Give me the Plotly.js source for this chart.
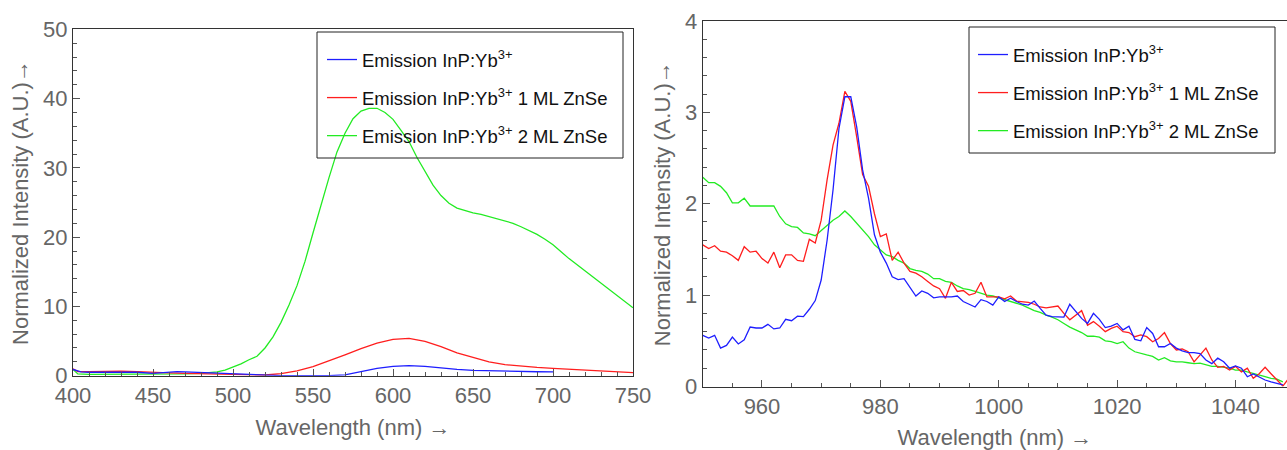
<!DOCTYPE html>
<html>
<head>
<meta charset="utf-8">
<script src="https://cdn.plot.ly/plotly-3.0.1.min.js"></script>
<style>html,body{margin:0;padding:0;background:#fff}#chart{width:1287px;height:450px}</style>
</head>
<body>
<div id="chart"></div>
<script>
// ---- Left panel: visible emission ----
const visBlueX = [400,405,410,420,430,440,450,460,465,470,480,490,500,510,520,530,540,550,560,570,575,580,590,600,610,620,630,640,650,660,670,680,690,700];
const visBlueY = [0.9,0.55,0.5,0.5,0.55,0.5,0.35,0.5,0.6,0.55,0.45,0.35,0.25,0.12,0.05,0.02,0.0,0.0,0.02,0.12,0.35,0.65,1.05,1.35,1.45,1.35,1.1,0.92,0.78,0.7,0.64,0.6,0.57,0.55];

const visRedX = [400,403,410,420,430,440,450,460,470,480,490,500,510,520,530,540,550,560,570,580,590,600,610,620,630,640,650,660,670,680,690,700,710,720,730,740,750];
const visRedY = [1.0,0.6,0.6,0.65,0.65,0.6,0.45,0.4,0.35,0.3,0.3,0.2,0.1,0.1,0.3,0.7,1.3,2.1,3.0,3.9,4.7,5.25,5.4,4.95,4.2,3.3,2.6,2.0,1.6,1.35,1.2,1.07,0.93,0.79,0.66,0.54,0.43];

const visGreenX = [400,403,410,420,430,440,450,460,470,480,490,495,500,505,510,515,520,525,530,535,540,545,550,555,560,565,570,575,580,585,590,595,600,605,610,615,620,625,630,635,640,645,650,655,660,665,670,675,680,685,690,695,700,710,720,730,740,750];
const visGreenY = [0.9,0.25,0.2,0.2,0.2,0.2,0.2,0.22,0.25,0.35,0.55,0.8,1.2,1.7,2.3,2.8,4.0,5.6,7.7,10.2,13.0,16.5,20.6,24.8,28.6,32.3,35.0,37.1,38.2,38.6,38.6,38.0,37.0,35.4,33.8,31.5,29.4,27.5,26.0,24.9,24.2,23.8,23.5,23.3,23.0,22.7,22.4,22.0,21.5,21.0,20.4,19.7,18.9,16.9,15.1,13.3,11.5,9.8];

// ---- Right panel: NIR emission (1 nm steps from 950) ----
const nirBlueY = [0.56,0.53,0.56,0.42,0.45,0.54,0.465,0.51,0.65,0.64,
  0.64,0.68,0.63,0.64,0.735,0.72,0.77,0.765,0.845,0.94,
  1.165,1.60,2.15,2.82,3.17,3.17,2.84,2.37,2.06,1.66,
  1.47,1.35,1.20,1.17,1.18,1.09,0.99,1.045,1.02,0.97,
  0.98,0.98,0.98,0.99,0.93,0.90,0.87,0.95,0.93,0.89,
  0.98,0.93,0.965,0.93,0.90,0.89,0.935,0.855,0.78,0.765,
  0.765,0.76,0.90,0.82,0.745,0.69,0.80,0.735,0.645,0.66,
  0.69,0.62,0.66,0.515,0.50,0.645,0.58,0.435,0.435,0.47,
  0.42,0.39,0.37,0.37,0.36,0.29,0.25,0.31,0.27,0.20,
  0.225,0.20,0.107,0.137,0.10,0.071,0.05,0.035,0.017];
const nirRedY = [1.55,1.51,1.54,1.48,1.47,1.43,1.38,1.53,1.47,1.48,
  1.40,1.35,1.47,1.30,1.44,1.44,1.38,1.37,1.61,1.57,
  1.82,2.26,2.64,2.88,3.23,3.12,2.73,2.32,2.19,1.89,
  1.64,1.67,1.38,1.47,1.35,1.26,1.24,1.20,1.15,1.10,
  1.07,0.965,1.14,1.04,1.05,1.00,1.02,1.14,0.98,0.98,
  0.98,0.96,0.99,0.935,0.93,0.92,0.90,0.87,0.86,0.87,
  0.88,0.80,0.73,0.78,0.83,0.67,0.71,0.66,0.60,0.635,
  0.66,0.60,0.59,0.545,0.565,0.545,0.49,0.525,0.59,0.47,
  0.40,0.41,0.38,0.27,0.345,0.42,0.29,0.21,0.22,0.18,
  0.22,0.16,0.20,0.09,0.14,0.21,0.14,0.07,0.005,0.09];
const nirGreenY = [2.29,2.23,2.23,2.19,2.12,2.01,2.01,2.06,1.975,1.975,
  1.975,1.975,1.975,1.86,1.78,1.75,1.74,1.68,1.67,1.65,
  1.71,1.77,1.82,1.86,1.92,1.86,1.79,1.71,1.64,1.55,
  1.49,1.44,1.42,1.38,1.35,1.29,1.27,1.26,1.23,1.18,
  1.18,1.15,1.14,1.10,1.07,1.06,1.04,1.02,1.00,0.99,
  0.97,0.95,0.93,0.91,0.89,0.86,0.83,0.81,0.78,0.76,
  0.73,0.69,0.65,0.62,0.59,0.55,0.55,0.54,0.50,0.49,
  0.47,0.49,0.42,0.38,0.36,0.345,0.33,0.29,0.315,0.28,
  0.27,0.27,0.26,0.25,0.255,0.235,0.22,0.22,0.21,0.20,
  0.18,0.18,0.16,0.14,0.125,0.107,0.09,0.08,0.05];
const nirStart = 950;
const nirX = n => Array.from({length: n}, (_, i) => nirStart + i);

const names = ['Emission InP:Yb<sup>3+</sup>', 'Emission InP:Yb<sup>3+</sup> 1 ML ZnSe', 'Emission InP:Yb<sup>3+</sup> 2 ML ZnSe'];
const colors = ['rgb(30,30,255)', 'rgb(255,30,30)', 'rgb(35,235,35)'];

const font = 'Liberation Sans, Arial, sans-serif';
const lw = 1.3;
const W = 1287, H = 450;

function line(x, y, i, xa, ya, leg, grp) {
  return {x, y, type: 'scatter', mode: 'lines', name: names[i], xaxis: xa, yaxis: ya,
    legend: leg, legendgroup: grp, legendrank: i + 1,
    line: {color: colors[i], width: lw}, hoverinfo: 'skip'};
}

const traces = [
  line(visGreenX, visGreenY, 2, 'x', 'y', 'legend', 'a3'),
  line(visRedX, visRedY, 1, 'x', 'y', 'legend', 'a2'),
  line(visBlueX, visBlueY, 0, 'x', 'y', 'legend', 'a1'),
  line(nirX(nirGreenY.length), nirGreenY, 2, 'x2', 'y2', 'legend2', 'b3'),
  line(nirX(nirRedY.length), nirRedY, 1, 'x2', 'y2', 'legend2', 'b2'),
  line(nirX(nirBlueY.length), nirBlueY, 0, 'x2', 'y2', 'legend2', 'b1'),
];

const tickGray = '#666';
function axis(extra) {
  return Object.assign({
    showline: true, linecolor: '#333', linewidth: 1.2, mirror: true,
    ticks: 'inside', ticklen: 7, tickwidth: 1, tickcolor: '#555',
    showgrid: false, zeroline: false, tickmode: 'linear',
    tickfont: {family: font, size: 22, color: tickGray},
    fixedrange: true,
  }, extra);
}
const titleFont = {family: font, size: 22, color: tickGray};

const legendBase = {
  bgcolor: 'rgba(255,255,255,0)', borderwidth: 0,
  font: {family: font, size: 18.5, color: '#111'},
  xanchor: 'left', yanchor: 'top', traceorder: 'grouped', tracegroupgap: 11,
};

// legend frames (pixel boxes converted to paper coords)
function frame(x0, y0, x1, y1) {
  return {type: 'rect', xref: 'paper', yref: 'paper', x0: x0 / W, x1: x1 / W, y0: 1 - y1 / H, y1: 1 - y0 / H,
    line: {color: '#222', width: 1}, fillcolor: 'rgba(0,0,0,0)', layer: 'above'};
}

const layout = {
  width: W, height: H,
  margin: {l: 0, r: 0, t: 0, b: 0},
  paper_bgcolor: '#fff', plot_bgcolor: '#fff',
  showlegend: true,
  xaxis: axis({domain: [73/W, 633/W], range: [400, 750], tick0: 400, dtick: 50, anchor: 'y',
    minor: {dtick: 10, ticks: 'inside', ticklen: 4, tickcolor: '#555'},
    title: {text: 'Wavelength (nm) →', font: titleFont, standoff: 12}}),
  yaxis: axis({domain: [1 - 375.7/H, 1 - 29.3/H], range: [0, 50], tick0: 0, dtick: 10, anchor: 'x',
    minor: {dtick: 2, ticks: 'inside', ticklen: 4, tickcolor: '#555'},
    title: {text: 'Normalized Intensity (A.U.)→', font: titleFont, standoff: 8}}),
  xaxis2: axis({domain: [702.8/W, 1], range: [950, 1048.7], tick0: 960, dtick: 20, anchor: 'y2',
    minor: {dtick: 5, ticks: 'inside', ticklen: 4, tickcolor: '#555'},
    title: {text: 'Wavelength (nm) →', font: titleFont, standoff: 12}}),
  yaxis2: axis({domain: [1 - 386.5/H, 1 - 20.9/H], range: [0, 4], tick0: 0, dtick: 1, anchor: 'x2',
    minor: {dtick: 0.2, ticks: 'inside', ticklen: 4, tickcolor: '#555'},
    title: {text: 'Normalized Intensity (A.U.)→', font: titleFont, standoff: 8}}),
  legend: Object.assign({}, legendBase, {x: 322/W, y: 1 - 41/H}),
  legend2: Object.assign({}, legendBase, {x: 973/W, y: 1 - 36/H}),
  shapes: [frame(317, 32, 623, 158), frame(969, 27, 1275, 153)],
};

Plotly.newPlot('chart', traces, layout, {staticPlot: true, displayModeBar: false});
</script>
</body>
</html>
